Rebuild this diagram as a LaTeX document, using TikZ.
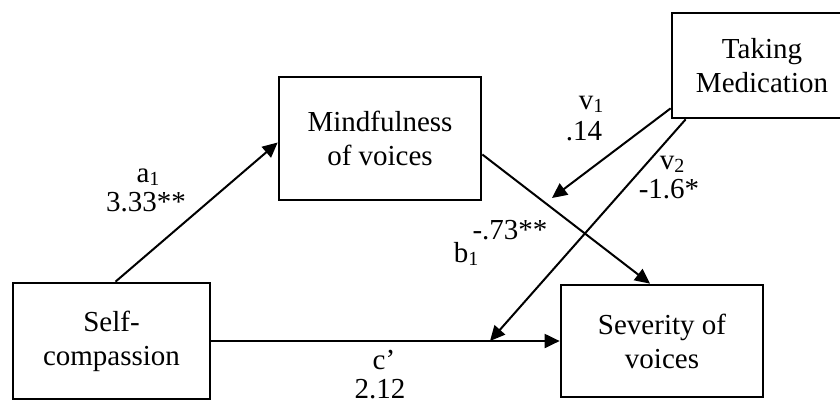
\documentclass[tikz,border=0pt]{standalone}
\usepackage{fontspec}
\setmainfont{Liberation Serif}
\usetikzlibrary{arrows.meta}

\newcommand{\lowidx}[1]{\raisebox{-1.5pt}{\fontsize{10}{10}\selectfont #1}}

\tikzset{
  varbox/.style={draw, line width=1.35pt, align=center, inner sep=0pt,
    font=\fontsize{14.5}{17}\selectfont},
  pathline/.style={-{Triangle[length=7.5pt,width=7pt]}, line width=1pt},
  coef/.style={anchor=base, inner sep=0pt, font=\fontsize{14.5}{17}\selectfont}
}

\begin{document}
\begin{tikzpicture}[x=0.5pt, y=-0.5pt]
\useasboundingbox (0,0) rectangle (840,403);
\clip (0,0) rectangle (840,403);
% ---- variables ----
\node[varbox, minimum width=98.5pt, minimum height=58pt] (self) at (111.5,341) {Self-\\compassion};
\node[varbox, minimum width=101pt, minimum height=61.5pt] (mind) at (380,138.5) {Mindfulness\\of voices};
\node[varbox, minimum width=101pt, minimum height=56pt] (sev) at (662,341) {Severity of\\voices};
\node[varbox, minimum width=90pt, minimum height=52.5pt] (med) at (762,65.5) {Taking\\Medication};
% ---- paths a, b, c' ----
\draw[pathline] ([xshift=2pt]self.north) -- ([yshift=-2pt]mind.west);
\draw[pathline] ([yshift=-8pt]mind.east) -- ([xshift=-6pt]sev.north);
\draw[pathline] (self.east) -- (sev.west);
% ---- moderator paths ----
\coordinate (v1tip) at (552,198);
\coordinate (v2tip) at (490,341);
\draw[pathline] ([yshift=5.5pt]med.south west) -- (v1tip);
\draw[pathline] ([xshift=7.5pt]med.south west) -- (v2tip);
% ---- coefficients ----
\node[coef] (alab) at (148,182) {a\lowidx{1}};
\node[coef] (aval) at (146,211) {3.33**};
\node[coef] (vonelab) at (591,109) {v\lowidx{1}};
\node[coef] (voneval) at (584,140) {.14};
\node[coef] (vtwolab) at (672,169) {v\lowidx{2}};
\node[coef] (vtwoval) at (669,198) {-1.6*};
\node[coef] (bval) at (510,239) {-.73**};
\node[coef] (blab) at (466,262) {b\lowidx{1}};
\node[coef] (clab) at (384,369) {c’};
\node[coef] (cval) at (380,398) {2.12};
\end{tikzpicture}
\end{document}
